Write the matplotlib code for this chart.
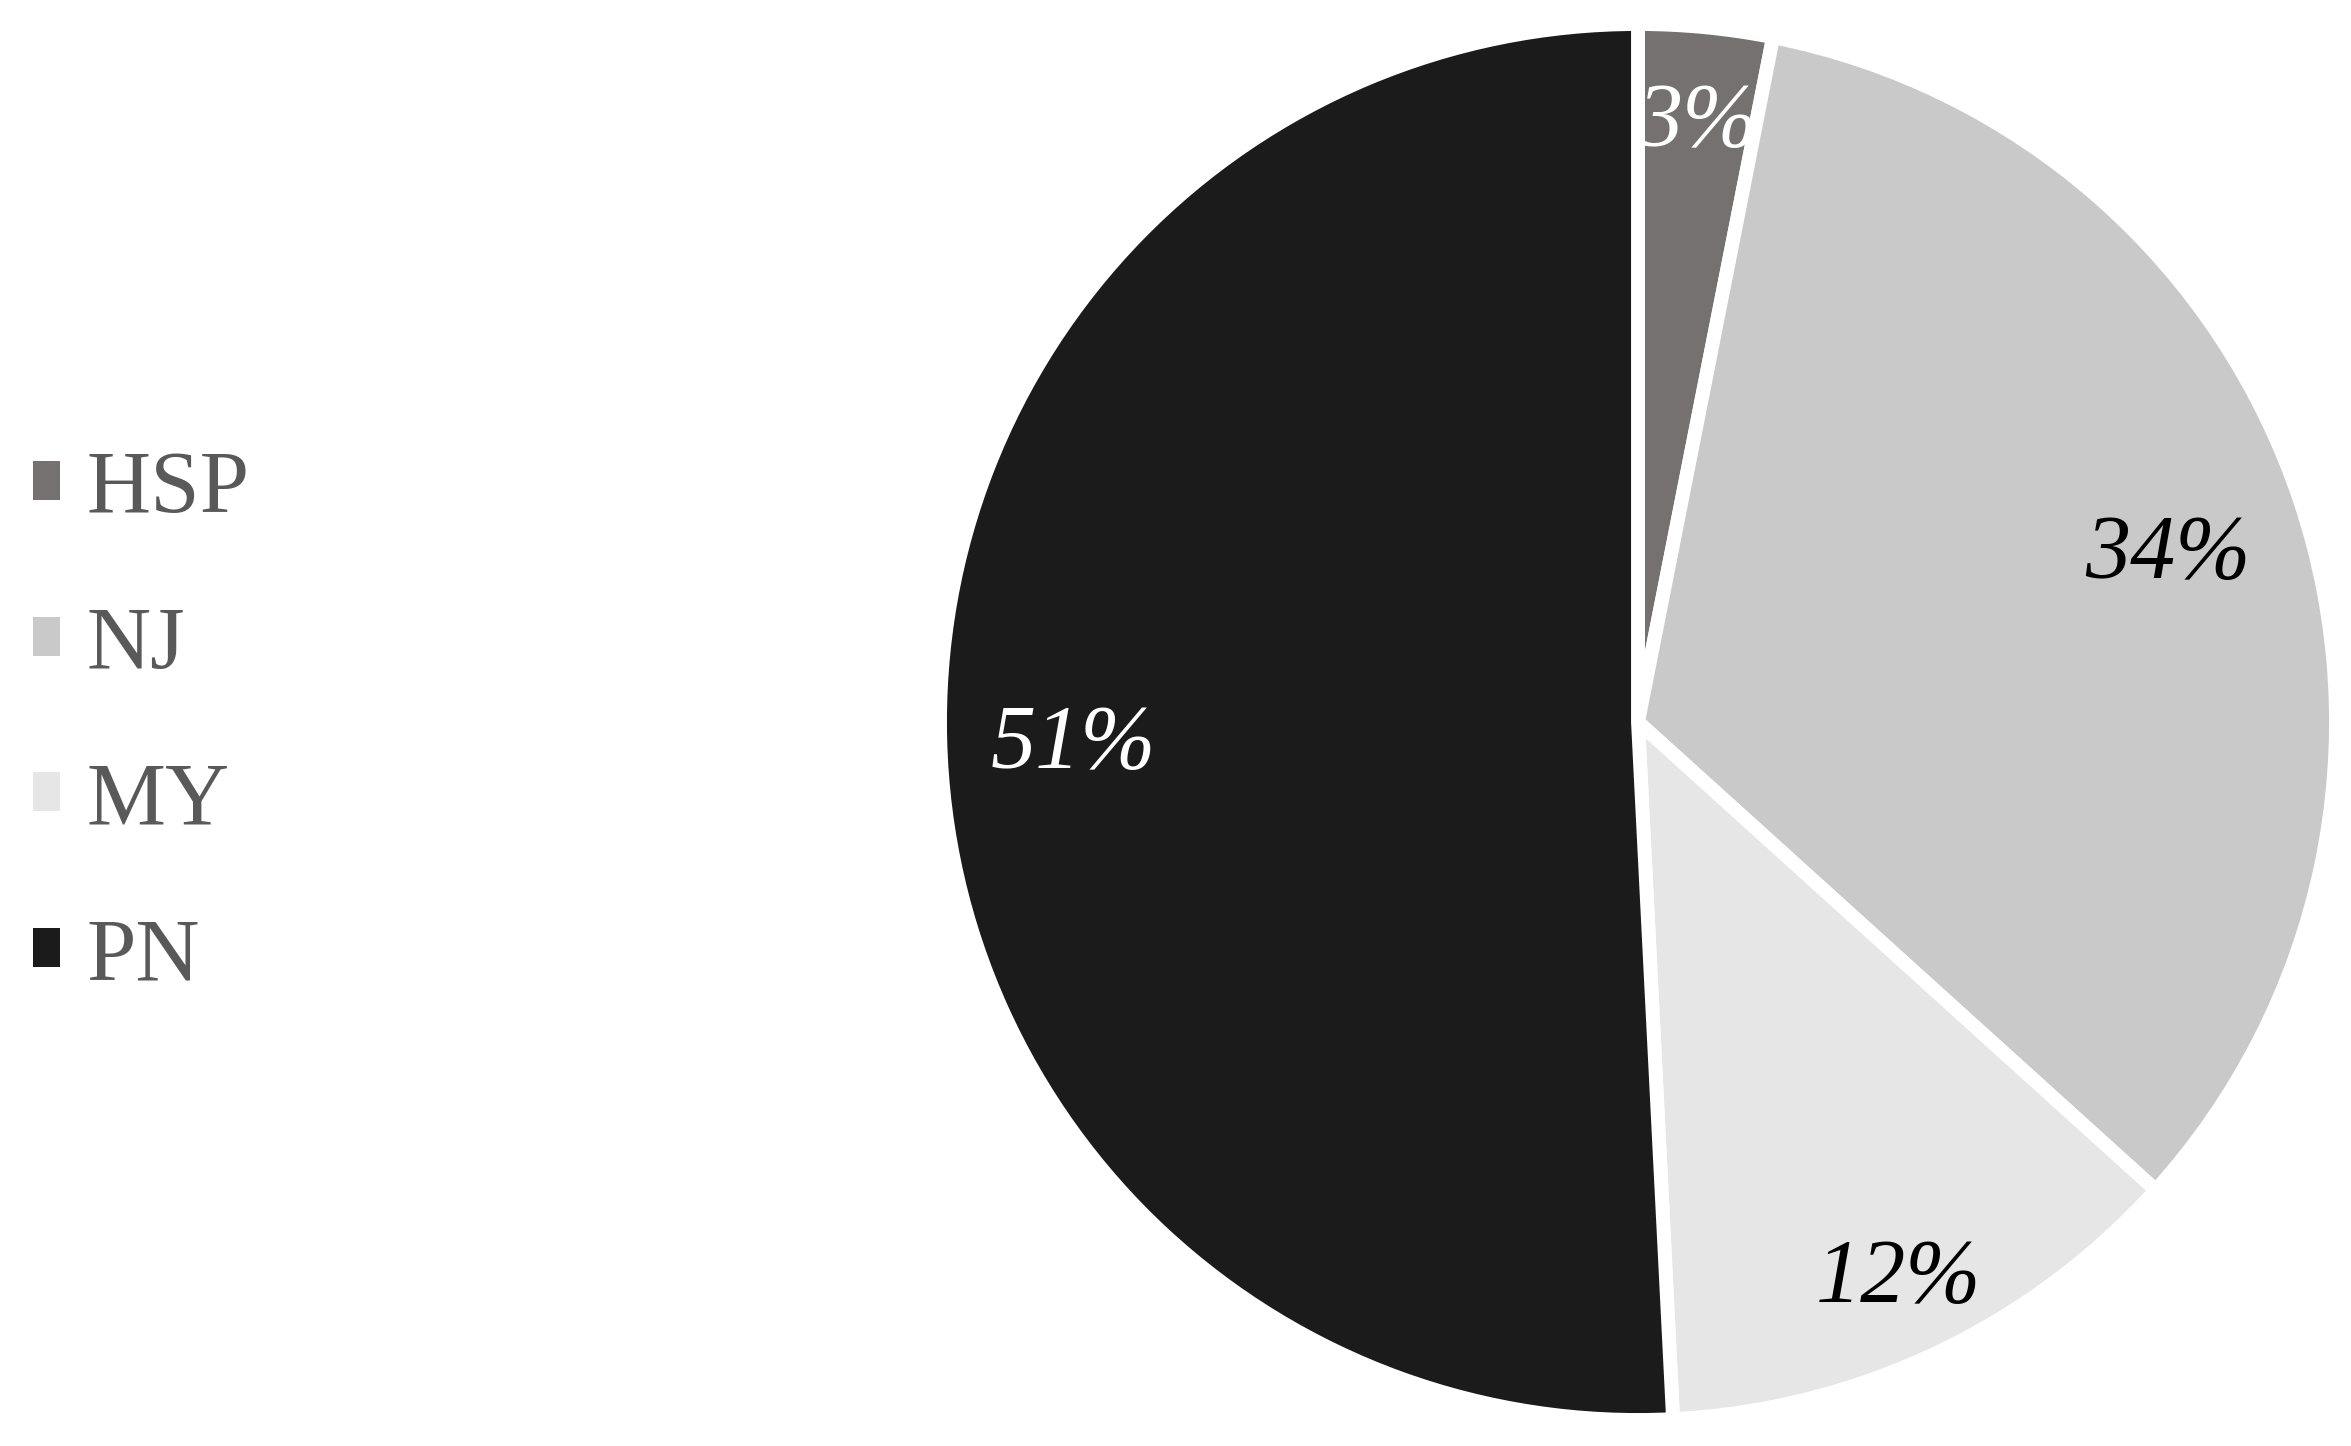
import matplotlib.pyplot as plt
from matplotlib.patches import Patch
import numpy as np

# shares
regions = ['HSP', 'NJ', 'MY', 'PN']
shares = [3.1, 33.6, 12.5, 50.8]
pct_labels = ['3%', '34%', '12%', '51%']
colors = ['#767171', '#C9C9C9', '#E7E6E6', '#1B1B1B']
pct_colors = ['white', 'black', 'black', 'white']
pct_radius = [0.875, 0.80, 0.87, 0.81]

plt.rcParams['font.family'] = ['Liberation Serif', 'DejaVu Serif']

fig = plt.figure(figsize=(23.51, 14.46), dpi=100)
ax = fig.add_axes([940 / 2351, 26 / 1446, 1396 / 2351, 1396 / 1446])

wedges, _ = ax.pie(shares, colors=colors, startangle=90, counterclock=False,
                   radius=1.0,
                   wedgeprops=dict(edgecolor='white', linewidth=10))
ax.set_xlim(-1, 1)
ax.set_ylim(-1, 1)
ax.set_aspect('equal')
ax.axis('off')

# percentage labels, placed at each wedge's mid angle
for w, txt, col, r in zip(wedges, pct_labels, pct_colors, pct_radius):
    ang = np.deg2rad((w.theta1 + w.theta2) / 2)
    ax.text(r * np.cos(ang), r * np.sin(ang), txt, color=col,
            fontsize=65, style='italic', ha='center', va='center_baseline')

handles = [Patch(facecolor=c, edgecolor='none') for c in colors]
leg = fig.legend(handles, regions, loc='center left',
                 bbox_to_anchor=(0.014, 0.499), frameon=False,
                 fontsize=64, handlelength=0.3, handleheight=0.3,
                 handletextpad=0.3, labelspacing=0.84, borderpad=0,
                 borderaxespad=0)
for t in leg.get_texts():
    t.set_color('#595959')

fig.savefig('out.png', dpi=100)
